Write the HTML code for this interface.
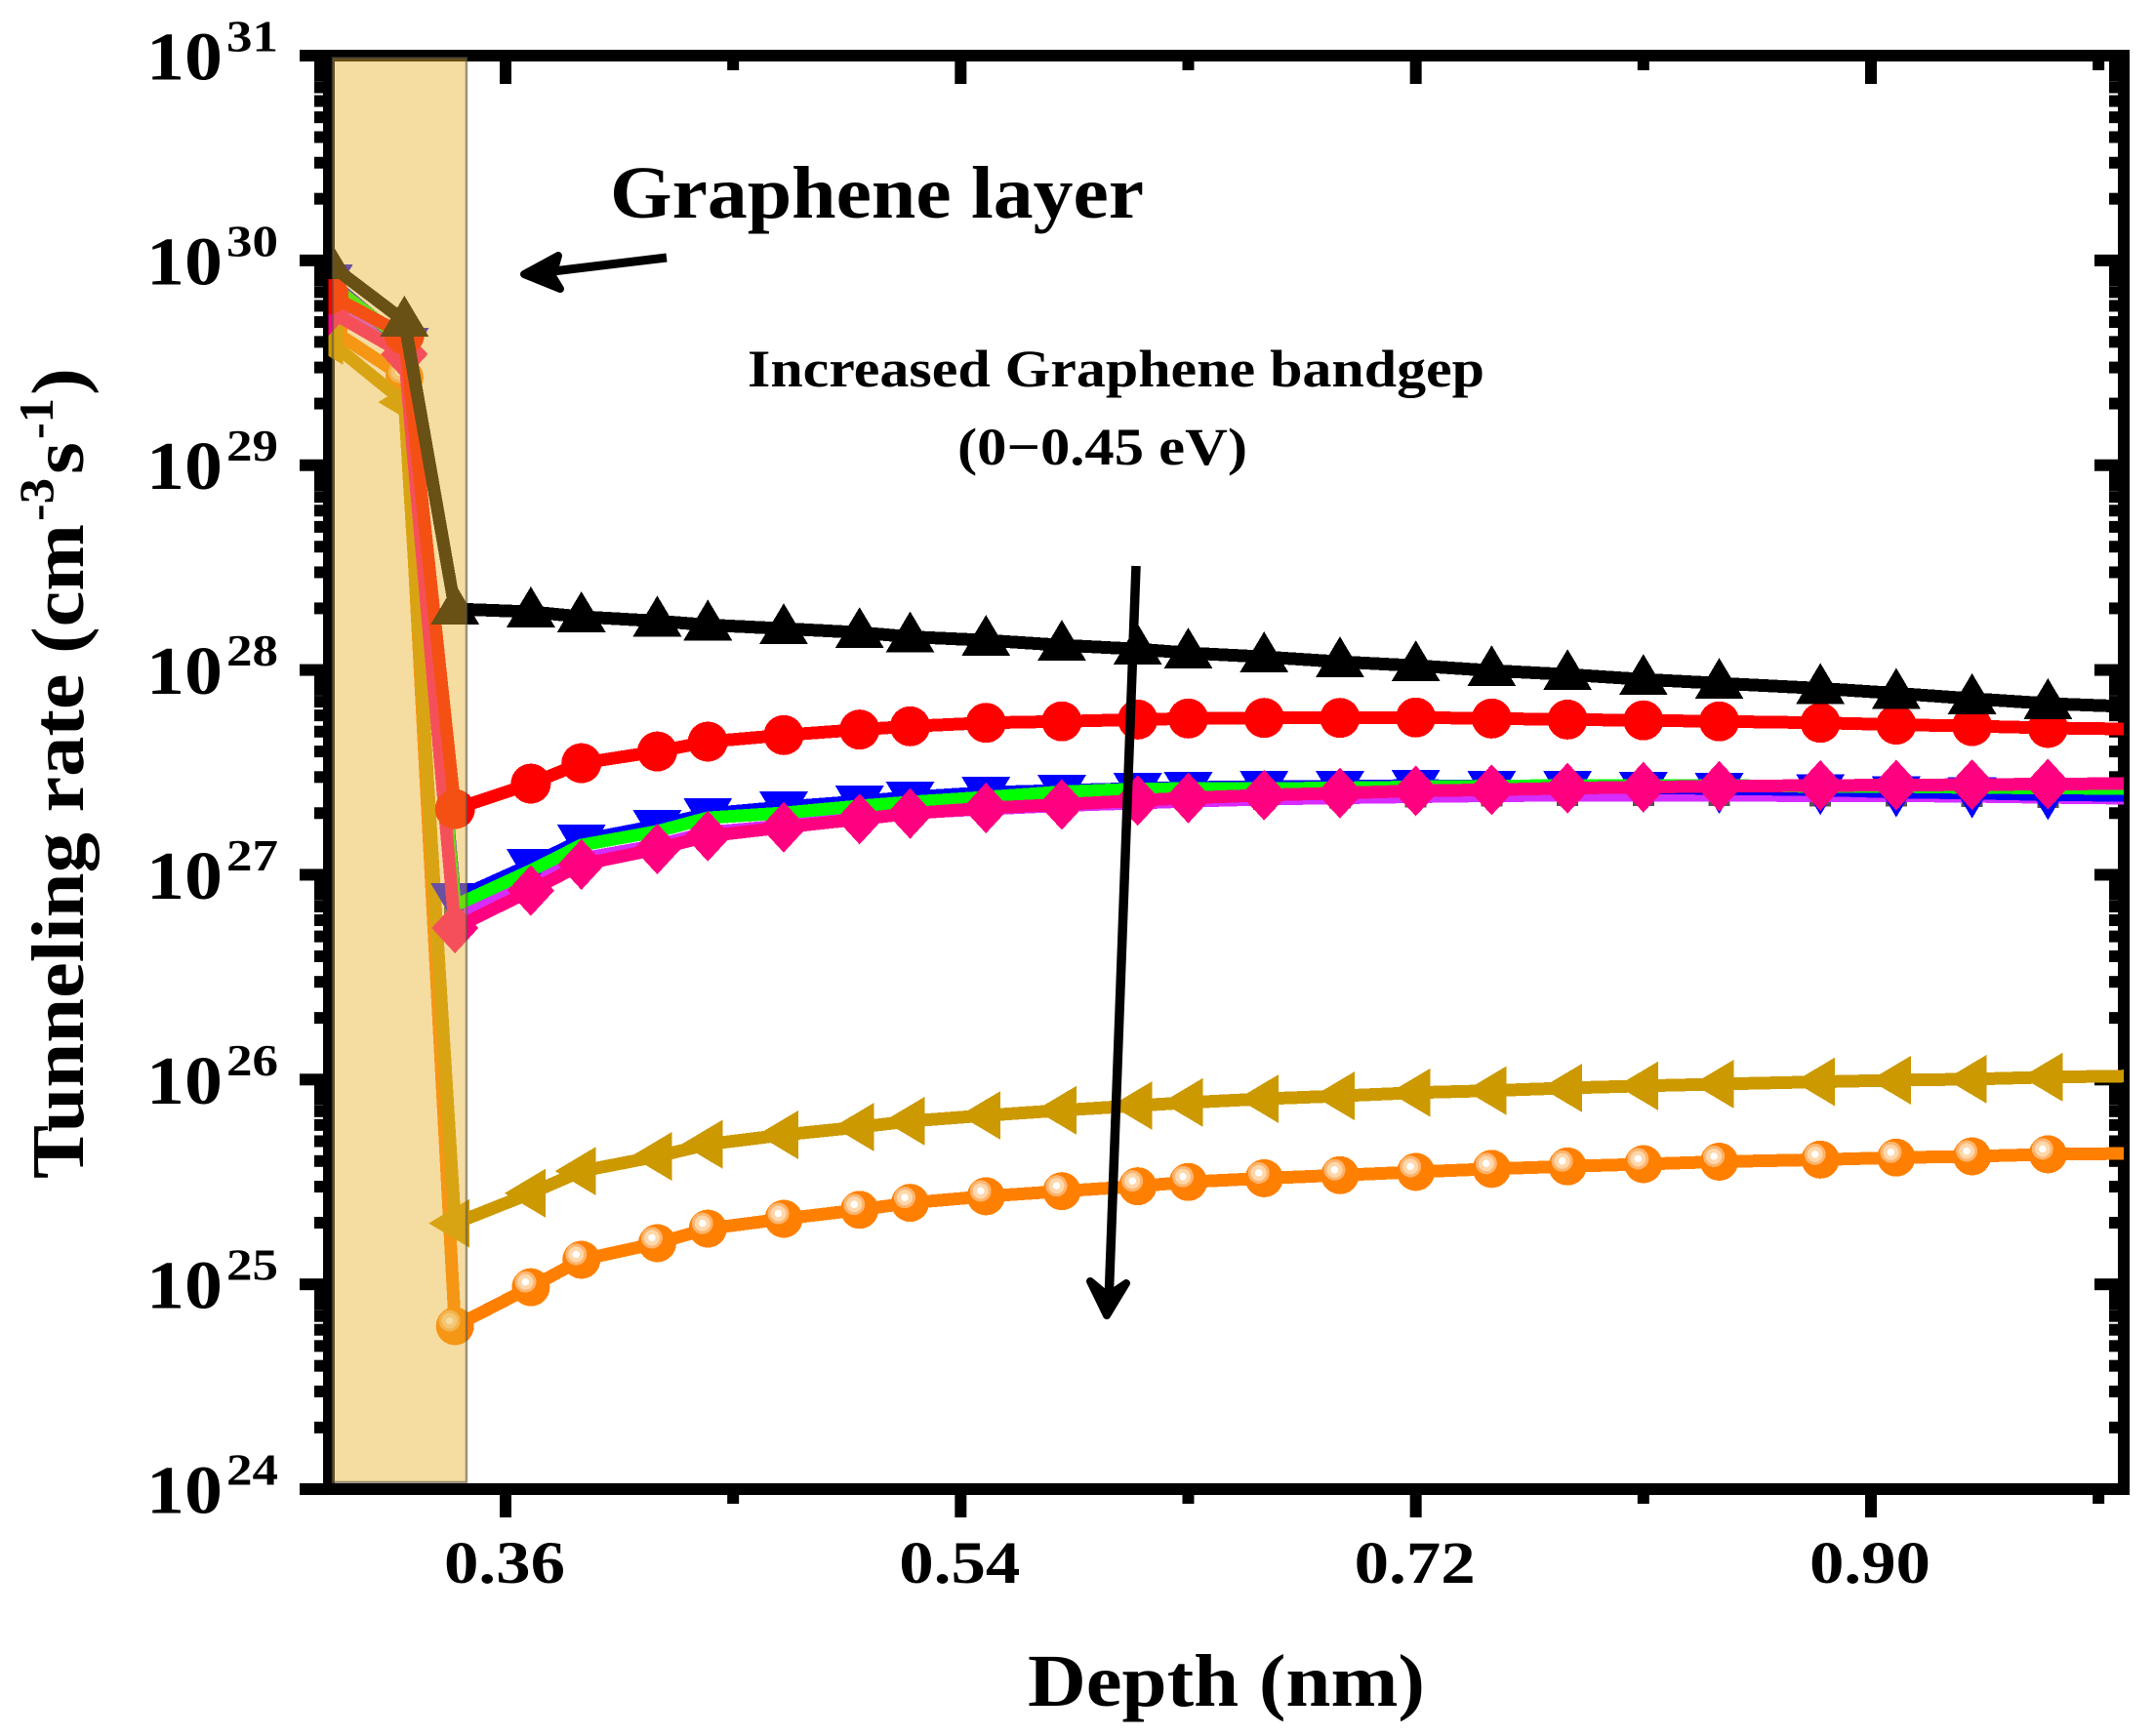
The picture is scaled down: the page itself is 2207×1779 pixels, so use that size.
<!DOCTYPE html>
<html lang="en">
<head>
<meta charset="utf-8">
<title>Tunneling rate vs depth</title>
<style>
html,body{margin:0;padding:0;background:#fff;}
svg{display:block;}
text{font-family:"Liberation Serif",serif;font-weight:bold;fill:#000;}
</style>
</head>
<body>
<svg id="chart" xmlns="http://www.w3.org/2000/svg" width="2207" height="1779" viewBox="0 0 2207 1779">
  <defs>
    <clipPath id="plot-clip"><rect x="336.5" y="57" width="1839.5" height="1469"/></clipPath>
  </defs>
  <rect x="0" y="0" width="2207" height="1779" fill="#fff"/>
  <g id="axes"></g>
  <g id="series" clip-path="url(#plot-clip)" shape-rendering="crispEdges"></g>
  <rect x="341" y="59.5" width="137" height="1459.5" fill="rgba(232,178,44,0.45)" stroke="rgba(90,85,70,0.6)" stroke-width="2.5"/>
  <g id="labels"></g>

  <text transform="translate(85,1208) rotate(-90)" font-size="76" textLength="671" lengthAdjust="spacingAndGlyphs">Tunneling rate (cm</text>
  <text transform="translate(54,534) rotate(-90)" font-size="50" textLength="44" lengthAdjust="spacingAndGlyphs">-3</text>
  <text transform="translate(85,486) rotate(-90)" font-size="76" textLength="33" lengthAdjust="spacingAndGlyphs">s</text>
  <text transform="translate(54,450) rotate(-90)" font-size="50" textLength="42" lengthAdjust="spacingAndGlyphs">-1</text>
  <text transform="translate(85,405) rotate(-90)" font-size="76" textLength="28" lengthAdjust="spacingAndGlyphs">)</text>

  <text x="1053" y="1748" font-size="76" textLength="407" lengthAdjust="spacingAndGlyphs">Depth (nm)</text>

  <text x="625" y="223" font-size="76" textLength="547" lengthAdjust="spacingAndGlyphs">Graphene layer</text>
  <text x="766" y="396" font-size="54" textLength="755" lengthAdjust="spacingAndGlyphs">Increased Graphene bandgep</text>
  <text x="981" y="476" font-size="54" textLength="297" lengthAdjust="spacingAndGlyphs">(0−0.45 eV)</text>

  <g>
    <line x1="683" y1="264" x2="550" y2="280" stroke="#000" stroke-width="9"/>
    <polygon points="537,281 572,262 566,283 574,296" fill="#000" stroke="#000" stroke-width="8" stroke-linejoin="round"/>
  </g>
  <g>
    <line x1="1164" y1="580" x2="1136" y2="1335" stroke="#000" stroke-width="9.5"/>
    <polygon points="1134,1348 1117,1313 1135,1328 1154,1315" fill="#000" stroke="#000" stroke-width="8" stroke-linejoin="round"/>
  </g>
</svg>

<script>
// ---- Data; rates are log10(cm^-3 s^-1) ----
const depthNm = [0.29,0.32,0.34,0.37,0.39,0.42,0.44,0.47,0.50,0.52,0.55,0.58,0.61,0.63,0.66,0.69,0.72,0.75,0.78,0.81,0.84,0.88,0.91,0.94,0.97,1.00];
const logRateGap0 = [29.985,29.704,28.298,28.284,28.26,28.239,28.22,28.202,28.183,28.162,28.145,28.121,28.102,28.083,28.064,28.04,28.021,27.997,27.978,27.954,27.935,27.91,27.886,27.86,27.836,27.822];
const logRateGapRed = [29.833,29.637,27.321,27.445,27.545,27.602,27.65,27.682,27.709,27.725,27.742,27.749,27.758,27.763,27.766,27.766,27.768,27.763,27.758,27.754,27.749,27.742,27.733,27.726,27.717,27.712];
const logRateGapBlue = [29.904,29.594,26.883,27.05,27.169,27.24,27.298,27.331,27.359,27.379,27.402,27.412,27.421,27.426,27.431,27.431,27.436,27.431,27.431,27.426,27.421,27.415,27.404,27.399,27.391,27.388];
const logRateGapGreen = [29.89,29.604,26.85,27.021,27.145,27.212,27.278,27.302,27.336,27.355,27.379,27.405,27.419,27.421,27.421,27.424,27.429,27.433,27.436,27.436,27.436,27.431,27.431,27.426,27.424,27.421];
const logRateGapPurple = [29.842,29.566,26.792,26.959,27.078,27.145,27.207,27.24,27.278,27.302,27.321,27.338,27.35,27.359,27.369,27.376,27.381,27.386,27.388,27.388,27.388,27.386,27.386,27.383,27.378,27.374];
const logRateGapPink = [29.756,29.542,26.74,26.923,27.05,27.126,27.189,27.232,27.272,27.299,27.326,27.343,27.363,27.375,27.389,27.399,27.41,27.415,27.423,27.428,27.432,27.436,27.438,27.44,27.443,27.445];
const logRateGapGold = [29.609,29.308,25.298,25.445,25.553,25.625,25.684,25.73,25.768,25.797,25.825,25.85,25.873,25.888,25.906,25.92,25.936,25.946,25.959,25.969,25.978,25.989,25.997,26.002,26.012,26.017];
const logRateGapOrange = [29.671,29.428,24.796,24.986,25.12,25.201,25.272,25.32,25.364,25.398,25.43,25.455,25.479,25.5,25.518,25.533,25.549,25.564,25.576,25.587,25.599,25.609,25.619,25.625,25.635,25.639];
const xMajorTicks = [0.36,0.54,0.72,0.90];
const xMinorTicks = [0.45,0.63,0.81,0.99];
const xTickLabels = ["0.36","0.54","0.72","0.90"];
const yDecades = [31,30,29,28,27,26,25,24];
const yMinorFactors = [2,3,4,5,6,7,8,9];

// ---- Axis functions ----
const X_AT_036 = 518, PX_PER_NM = 2590.7;
const Y_AT_31 = 57, PX_PER_DECADE = 209.86;
function xScale(v){ return X_AT_036 + (v - 0.36) * PX_PER_NM; }
function yScale(e){ return Y_AT_31 + (31 - e) * PX_PER_DECADE; }

const NS = "http://www.w3.org/2000/svg";
function make(parent, tag, attrs){
  const el = document.createElementNS(NS, tag);
  for (const k in attrs) el.setAttribute(k, attrs[k]);
  parent.appendChild(el);
  return el;
}
function tickRect(parent, x1, y1, x2, y2, name){
  const el = make(parent, "rect", {x:Math.min(x1,x2), y:Math.min(y1,y2), width:Math.abs(x2-x1), height:Math.abs(y2-y1), fill:"#000"});
  
  
}

// ---- Axes ----
const axes = document.getElementById("axes");
const L = 337, R = 2176, T = 57, B = 1526, HALF = 6;
tickRect(axes, L-HALF, T-HALF, L+HALF, B+HALF, "left-spine");
tickRect(axes, R-HALF, T-HALF, R+HALF, B+HALF, "right-spine");
tickRect(axes, 307, T-HALF, R+HALF, T+HALF, "top-spine");
tickRect(axes, 307, B-HALF, R+HALF, B+HALF, "bottom-spine");

xMajorTicks.forEach(function(v){
  const x = xScale(v);
  tickRect(axes, x-HALF, B, x+HALF, 1555, "x-major-tick");
  tickRect(axes, x-HALF, T, x+HALF, 86, "x-major-tick-top");
});
xMinorTicks.forEach(function(v){
  const x = xScale(v);
  tickRect(axes, x-HALF, B, x+HALF, 1541, "x-minor-tick");
  tickRect(axes, x-HALF, T, x+HALF, 72, "x-minor-tick-top");
});
yDecades.forEach(function(d){
  const y = yScale(d);
  tickRect(axes, 307, y-HALF, L, y+HALF, "y-major-tick");
  tickRect(axes, 2146, y-HALF, R, y+HALF, "y-major-tick-right");
  if (d > 24) {
    yMinorFactors.forEach(function(f){
      const ym = yScale(d - 1 + Math.log10(f));
      tickRect(axes, 322, ym-HALF, L, ym+HALF, "y-minor-tick");
      tickRect(axes, 2161, ym-HALF, R, ym+HALF, "y-minor-tick-right");
    });
  }
});

// ---- Tick labels ----
const labels = document.getElementById("labels");
xMajorTicks.forEach(function(v, i){
  const t = make(labels, "text", {x:xScale(v)-63, y:1622, "font-size":61, textLength:124, lengthAdjust:"spacingAndGlyphs"});
  
  
  t.textContent = xTickLabels[i];
});
yDecades.forEach(function(d){
  const y = yScale(d);
  const base = make(labels, "text", {x:150, y:y+24.5, "font-size":69.5, textLength:78, lengthAdjust:"spacingAndGlyphs"});
  
  
  base.textContent = "10";
  const sup = make(labels, "text", {x:232, y:y-4.5, "font-size":46, textLength:53, lengthAdjust:"spacingAndGlyphs"});
  
  
  sup.textContent = String(d);
});

// ---- Marker drawing ----
function triUp(g, x, y, c){ return make(g, "polygon", {points:(x)+","+(y-26)+" "+(x+25)+","+(y+16)+" "+(x-25)+","+(y+16), fill:c}); }
function triDown(g, x, y, c){ return make(g, "polygon", {points:(x)+","+(y+26)+" "+(x+25)+","+(y-16)+" "+(x-25)+","+(y-16), fill:c}); }
function triLeft(g, x, y, c){ return make(g, "polygon", {points:(x-27)+","+y+" "+(x+15)+","+(y-25)+" "+(x+15)+","+(y+25), fill:c}); }
function diamond(g, x, y, c){ return make(g, "polygon", {points:x+","+(y-26)+" "+(x+24)+","+y+" "+x+","+(y+26)+" "+(x-24)+","+y, fill:c}); }
function disc(g, x, y, c){ return make(g, "circle", {cx:x, cy:y, r:20.5, fill:c}); }
function square(g, x, y, c){ return make(g, "rect", {x:x-11, y:y-11, width:22, height:22, fill:c}); }
function sphere(g, x, y, c){
  const s = make(g, "circle", {cx:x, cy:y, r:19.5, fill:c});
  make(g, "circle", {cx:x-5.5, cy:y-5.5, r:11, fill:"#fdb46e"});
  make(g, "circle", {cx:x-5.5, cy:y-5.5, r:8, fill:"#ffd7aa"});
  make(g, "circle", {cx:x-5.5, cy:y-5.5, r:3.8, fill:"#fff"});
  return s;
}

function linePoints(vals){
  return vals.map(function(e, i){ return xScale(depthNm[i]) + "," + yScale(e); }).join(" ");
}

function drawSeries(vals, color, marker, markerColor, markersFirst, name){
  const g = make(seriesRoot, "g", {});
  
  
  function drawLine(){
    const line = make(g, "polyline", {points:linePoints(vals), fill:"none", stroke:color, "stroke-width":13, "stroke-linejoin":"bevel"});
    
    
  }
  function drawMarks(){
    if (!marker) return;
    for (let i = 0; i < vals.length - 1; i++) {
      const m = marker(g, xScale(depthNm[i]), yScale(vals[i]), markerColor);
      
      
    }
  }
  if (markersFirst) { drawMarks(); drawLine(); } else { drawLine(); drawMarks(); }
}

const seriesRoot = document.getElementById("series");
drawSeries(logRateGapOrange, "#ff8000", sphere, "#ff8000", false, "series-orange");
drawSeries(logRateGapGold, "#cc9900", triLeft, "#cc9900", false, "series-gold");
drawSeries(logRateGapPurple, "#d62cff", square, "#555555", true, "series-purple");
drawSeries(logRateGapBlue, "#0000ff", triDown, "#0000ff", false, "series-blue");
drawSeries(logRateGapGreen, "#00ff00", null, "#00ff00", false, "series-green");
drawSeries(logRateGapPink, "#ff0080", diamond, "#ff0080", false, "series-pink");
drawSeries(logRateGapRed, "#ff0000", disc, "#ff0000", false, "series-red");
drawSeries(logRateGap0, "#000000", triUp, "#000000", false, "series-black");
</script>
</body>
</html>
